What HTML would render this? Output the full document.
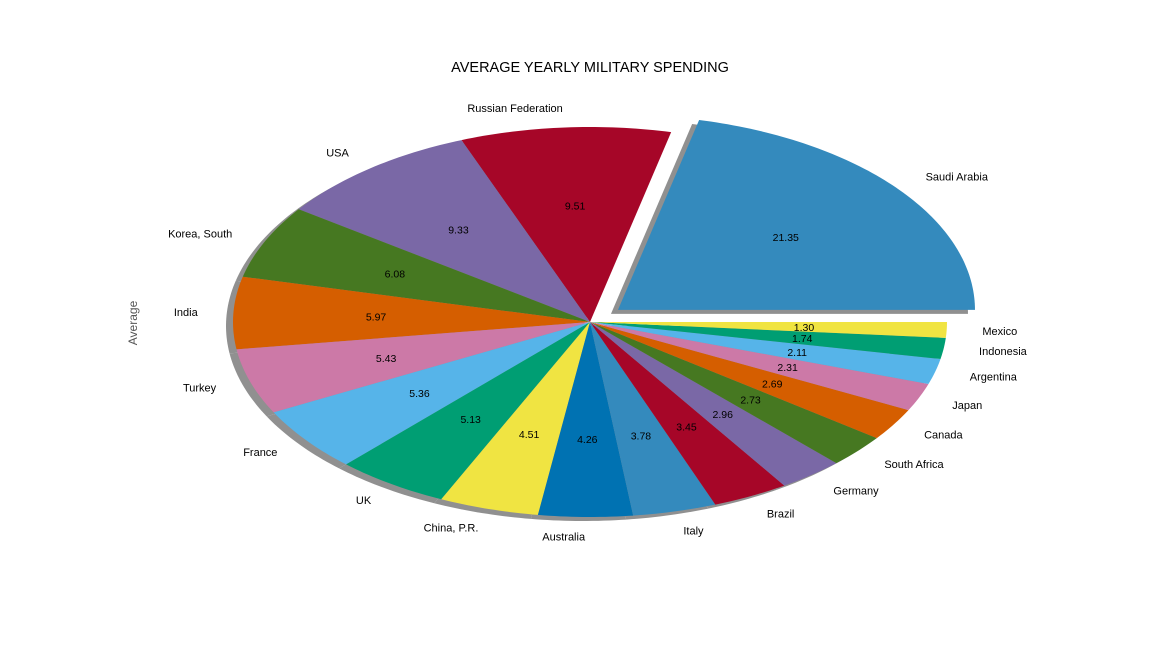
<!DOCTYPE html>
<html><head><meta charset="utf-8"><style>
body{margin:0;background:#fff;}
svg{display:block;font-family:"Liberation Sans",sans-serif;}
</style></head><body>
<svg id="chart" width="1152" height="648" viewBox="0 0 1152 648">
<rect width="1152" height="648" fill="#fff"/>
<text x="590" y="72" font-size="14.5" text-anchor="middle">AVERAGE YEARLY MILITARY SPENDING</text>
<text x="0" y="0" font-size="12" fill="#555" text-anchor="middle" transform="translate(137,323) rotate(-90)">Average</text>
<g id="shadows"></g><g id="slices"></g><g id="labels"></g>
</svg>
<script>
const categories=["Saudi Arabia","Russian Federation","USA","Korea, South","India","Turkey","France","UK","China, P.R.","Australia","Italy","Brazil","Germany","South Africa","Canada","Japan","Argentina","Indonesia","Mexico"];
const values=[21.35,9.51,9.33,6.08,5.97,5.43,5.36,5.13,4.51,4.26,3.78,3.45,2.96,2.73,2.69,2.31,2.11,1.74,1.30];
const explode=[0.1,0,0,0,0,0,0,0,0,0,0,0,0,0,0,0,0,0,0];
const palette=["#348ABD","#A60628","#7A68A6","#467821","#D55E00","#CC79A7","#56B4E9","#009E73","#F0E442","#0072B2"];
const NS="http://www.w3.org/2000/svg";
const cx=590,cy=322,rx=357,ry=195;
const total=values.reduce((a,b)=>a+b,0);
function pt(a,r,ox,oy){return [cx+ox+r*rx*Math.cos(a),cy+oy-r*ry*Math.sin(a)];}
function wedge(a0,a1,ox,oy){let p=[pt(0,0,ox,oy)];const n=Math.max(4,Math.ceil((a1-a0)*60));for(let i=0;i<=n;i++){p.push(pt(a0+(a1-a0)*i/n,1,ox,oy));}return "M"+p.map(q=>q[0].toFixed(2)+","+q[1].toFixed(2)).join("L")+"Z";}
const gS=document.getElementById("shadows"),gW=document.getElementById("slices"),gL=document.getElementById("labels");
let acc=0;
values.forEach((v,i)=>{
 const a0=acc/total*2*Math.PI;acc+=v;const a1=acc/total*2*Math.PI;const m=(a0+a1)/2;
 const ox=explode[i]*rx*Math.cos(m),oy=-explode[i]*ry*Math.sin(m);
 const sh=document.createElementNS(NS,"path");
 sh.setAttribute("d",wedge(a0,a1,ox-7,oy+4));sh.setAttribute("fill","#909090");
 
 
 gS.appendChild(sh);
 const w=document.createElementNS(NS,"path");
 w.setAttribute("d",wedge(a0,a1,ox,oy));w.setAttribute("fill",palette[i%palette.length]);
 
 
 gW.appendChild(w);
 const lp=pt(m,1.1,ox,oy);
 const t=document.createElementNS(NS,"text");
 t.setAttribute("x",lp[0]);t.setAttribute("y",lp[1]+4);t.setAttribute("font-size","11");
 t.setAttribute("text-anchor",Math.cos(m)>=0?"start":"end");t.textContent=categories[i];
 
 
 gL.appendChild(t);
 const pp=pt(m,0.6,ox,oy);
 const p=document.createElementNS(NS,"text");
 p.setAttribute("x",pp[0]);p.setAttribute("y",pp[1]+4);p.setAttribute("font-size","10.5");
 p.setAttribute("text-anchor","middle");p.textContent=v.toFixed(2);
 
 
 gL.appendChild(p);
});
</script>
</body></html>
